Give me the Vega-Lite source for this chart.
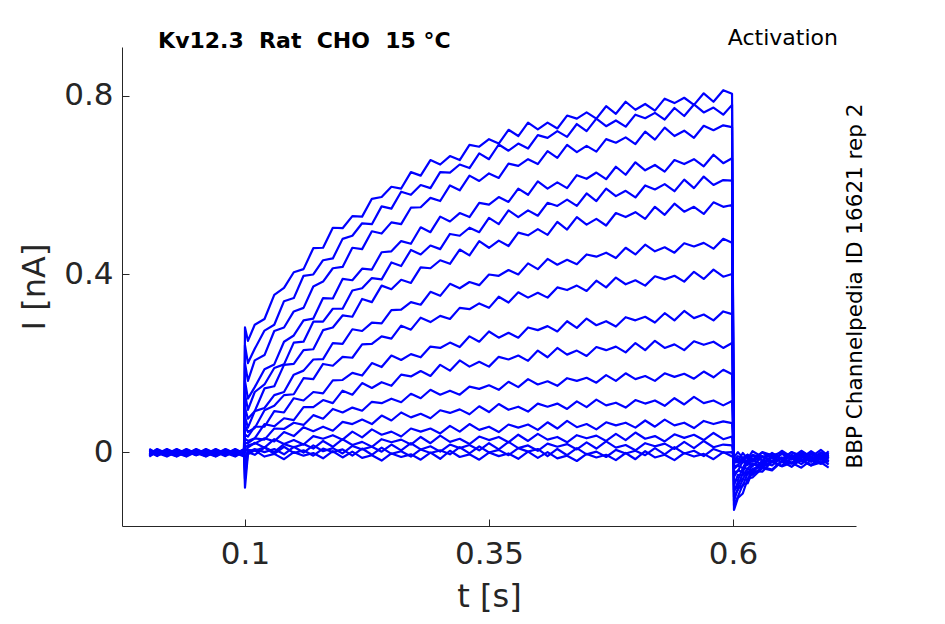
{
  "$schema": "https://vega.github.io/schema/vega-lite/v6.json",
  "width": 734,
  "height": 479,
  "autosize": "none",
  "padding": {"left": 122, "top": 47, "right": 89, "bottom": 98},
  "background": "white",
  "config": {"view": {"stroke": null}, "font": "DejaVu Sans"},
  "layer": [
    {
      "data": {"values": [
        {"t":0.002,"a":-0.003,"b":0.004,"c":-0.006,"d":0.007,"e":-0.007,"f":0.003,"g":-0.004,"h":0.001,"i":-0.001,"j":0.006,"k":-0.006,"l":0.001,"m":-0.009,"n":0.004,"o":-0.010,"p":0.000,"q":-0.007},
        {"t":0.01,"a":0.001,"b":-0.001,"c":0.006,"d":-0.003,"e":0.004,"f":-0.006,"g":0.007,"h":-0.007,"i":0.003,"j":-0.004,"k":-0.002,"l":-0.004,"m":0.003,"n":-0.006,"o":0.001,"p":-0.009,"q":0.004},
        {"t":0.02,"a":-0.007,"b":0.003,"c":-0.004,"d":0.001,"e":-0.001,"f":0.006,"g":-0.003,"h":0.004,"i":-0.006,"j":0.007,"k":-0.010,"l":0.000,"m":-0.007,"n":-0.002,"o":-0.004,"p":0.003,"q":-0.006},
        {"t":0.03,"a":0.004,"b":-0.006,"c":0.007,"d":-0.007,"e":0.003,"f":-0.004,"g":0.001,"h":-0.001,"i":0.006,"j":-0.003,"k":0.001,"l":-0.009,"m":0.004,"n":-0.010,"o":0.000,"p":-0.007,"q":-0.002},
        {"t":0.04,"a":-0.001,"b":0.006,"c":-0.003,"d":0.004,"e":-0.006,"f":0.007,"g":-0.007,"h":0.003,"i":-0.004,"j":0.001,"k":-0.004,"l":0.003,"m":-0.006,"n":0.001,"o":-0.009,"p":0.004,"q":-0.010},
        {"t":0.05,"a":0.003,"b":-0.004,"c":0.001,"d":-0.001,"e":0.006,"f":-0.003,"g":0.004,"h":-0.006,"i":0.007,"j":-0.007,"k":0.000,"l":-0.007,"m":-0.002,"n":-0.004,"o":0.003,"p":-0.006,"q":0.001},
        {"t":0.06,"a":-0.006,"b":0.007,"c":-0.007,"d":0.003,"e":-0.004,"f":0.001,"g":-0.001,"h":0.006,"i":-0.003,"j":0.004,"k":-0.009,"l":0.004,"m":-0.010,"n":0.000,"o":-0.007,"p":-0.002,"q":-0.004},
        {"t":0.07,"a":0.006,"b":-0.003,"c":0.004,"d":-0.006,"e":0.007,"f":-0.007,"g":0.003,"h":-0.004,"i":0.001,"j":-0.001,"k":0.003,"l":-0.006,"m":0.001,"n":-0.009,"o":0.004,"p":-0.010,"q":0.000},
        {"t":0.08,"a":-0.004,"b":0.001,"c":-0.001,"d":0.006,"e":-0.003,"f":0.004,"g":-0.006,"h":0.007,"i":-0.007,"j":0.003,"k":-0.007,"l":-0.002,"m":-0.004,"n":0.003,"o":-0.006,"p":0.001,"q":-0.009},
        {"t":0.09,"a":0.007,"b":-0.007,"c":0.003,"d":-0.004,"e":0.001,"f":-0.001,"g":0.006,"h":-0.003,"i":0.004,"j":-0.006,"k":0.004,"l":-0.010,"m":0.000,"n":-0.007,"o":-0.002,"p":-0.004,"q":0.003},
        {"t":0.099,"a":-0.003,"b":0.004,"c":-0.006,"d":0.007,"e":-0.007,"f":0.003,"g":-0.004,"h":0.001,"i":-0.001,"j":0.006,"k":-0.006,"l":0.001,"m":-0.009,"n":0.004,"o":-0.010,"p":0.000,"q":-0.007},
        {"t":0.1,"a":0.28,"b":0.24,"c":0.20,"d":0.16,"e":0.13,"f":0.10,"g":0.08,"h":0.06,"i":0.04,"j":0.03,"k":0.02,"l":0.01,"m":0.0,"n":-0.02,"o":-0.04,"p":-0.06,"q":-0.08},
        {"t":0.103,"a":0.25,"b":0.20,"c":0.16,"d":0.12,"e":0.095,"f":0.075,"g":0.055,"h":0.045,"i":0.035,"j":0.025,"k":0.02,"l":0.015,"m":0.01,"n":0.005,"o":0.0,"p":0.0,"q":-0.005},
        {"t":0.11,"a":0.286,"b":0.232,"c":0.206,"d":0.146,"e":0.135,"f":0.092,"g":0.092,"h":0.054,"i":0.057,"j":0.031,"k":0.031,"l":0.019,"m":0.021,"n":0.003,"o":0.007,"p":-0.006,"q":0.004},
        {"t":0.12,"a":0.299,"b":0.273,"c":0.218,"d":0.186,"e":0.152,"f":0.143,"g":0.099,"h":0.094,"i":0.057,"j":0.063,"k":0.028,"l":0.031,"m":0.010,"n":0.011,"o":0.000,"p":0.010,"q":-0.010},
        {"t":0.13,"a":0.353,"b":0.286,"c":0.272,"d":0.197,"e":0.189,"f":0.148,"g":0.128,"h":0.104,"i":0.092,"j":0.058,"k":0.053,"l":0.024,"m":0.029,"n":0.000,"o":0.007,"p":-0.004,"q":-0.004},
        {"t":0.14,"a":0.369,"b":0.339,"c":0.280,"d":0.248,"e":0.197,"f":0.196,"g":0.135,"h":0.128,"i":0.089,"j":0.076,"k":0.052,"l":0.045,"m":0.018,"n":0.018,"o":-0.005,"p":0.012,"q":-0.016},
        {"t":0.15,"a":0.404,"b":0.346,"c":0.316,"d":0.262,"e":0.246,"f":0.198,"g":0.174,"h":0.130,"i":0.121,"j":0.072,"k":0.066,"l":0.036,"m":0.027,"n":0.011,"o":0.012,"p":-0.002,"q":0.000},
        {"t":0.16,"a":0.411,"b":0.396,"c":0.324,"d":0.296,"e":0.248,"f":0.229,"g":0.183,"h":0.166,"i":0.116,"j":0.101,"k":0.061,"l":0.056,"m":0.017,"n":0.018,"o":-0.001,"p":0.004,"q":-0.008},
        {"t":0.17,"a":0.458,"b":0.399,"c":0.372,"d":0.300,"e":0.293,"f":0.231,"g":0.208,"h":0.164,"i":0.135,"j":0.101,"k":0.083,"l":0.047,"m":0.036,"n":0.008,"o":0.015,"p":-0.008,"q":-0.002},
        {"t":0.18,"a":0.459,"b":0.431,"c":0.383,"d":0.346,"e":0.293,"f":0.274,"g":0.209,"h":0.198,"i":0.132,"j":0.117,"k":0.075,"l":0.057,"m":0.030,"n":0.025,"o":0.002,"p":0.008,"q":-0.014},
        {"t":0.19,"a":0.504,"b":0.435,"c":0.413,"d":0.345,"e":0.322,"f":0.280,"g":0.245,"h":0.194,"i":0.161,"j":0.110,"k":0.097,"l":0.048,"m":0.038,"n":0.012,"o":0.009,"p":0.000,"q":0.002},
        {"t":0.20,"a":0.503,"b":0.479,"c":0.416,"d":0.389,"e":0.322,"f":0.307,"g":0.243,"h":0.214,"i":0.162,"j":0.138,"k":0.089,"l":0.068,"m":0.028,"n":0.029,"o":-0.003,"p":0.006,"q":-0.012},
        {"t":0.21,"a":0.530,"b":0.486,"c":0.459,"d":0.386,"e":0.363,"f":0.304,"g":0.276,"h":0.212,"i":0.178,"j":0.129,"k":0.100,"l":0.063,"m":0.046,"n":0.016,"o":0.014,"p":-0.008,"q":0.001},
        {"t":0.22,"a":0.529,"b":0.514,"c":0.456,"d":0.412,"e":0.368,"f":0.344,"g":0.272,"h":0.242,"i":0.172,"j":0.155,"k":0.093,"l":0.073,"m":0.033,"n":0.023,"o":0.006,"p":0.008,"q":-0.013},
        {"t":0.23,"a":0.569,"b":0.512,"c":0.496,"d":0.410,"e":0.391,"f":0.337,"g":0.291,"h":0.243,"i":0.200,"j":0.144,"k":0.113,"l":0.063,"m":0.051,"n":0.012,"o":0.012,"p":-0.006,"q":-0.007},
        {"t":0.24,"a":0.573,"b":0.552,"c":0.491,"d":0.449,"e":0.388,"f":0.374,"g":0.289,"h":0.260,"i":0.191,"j":0.157,"k":0.110,"l":0.082,"m":0.039,"n":0.029,"o":0.001,"p":0.010,"q":-0.019},
        {"t":0.25,"a":0.596,"b":0.547,"c":0.516,"d":0.451,"e":0.426,"f":0.366,"g":0.319,"h":0.255,"i":0.217,"j":0.149,"k":0.120,"l":0.071,"m":0.046,"n":0.022,"o":0.017,"p":-0.004,"q":-0.003},
        {"t":0.26,"a":0.592,"b":0.585,"c":0.512,"d":0.474,"e":0.418,"f":0.387,"g":0.320,"h":0.284,"i":0.207,"j":0.174,"k":0.112,"l":0.089,"m":0.035,"n":0.028,"o":0.004,"p":0.002,"q":-0.011},
        {"t":0.27,"a":0.629,"b":0.578,"c":0.549,"d":0.468,"e":0.454,"f":0.380,"g":0.337,"h":0.275,"i":0.220,"j":0.170,"k":0.131,"l":0.078,"m":0.053,"n":0.017,"o":0.020,"p":-0.010,"q":-0.005},
        {"t":0.28,"a":0.621,"b":0.600,"c":0.550,"d":0.505,"e":0.444,"f":0.415,"g":0.331,"h":0.302,"i":0.213,"j":0.182,"k":0.121,"l":0.086,"m":0.046,"n":0.034,"o":0.006,"p":0.006,"q":-0.017},
        {"t":0.29,"a":0.656,"b":0.593,"c":0.571,"d":0.494,"e":0.464,"f":0.413,"g":0.360,"h":0.292,"i":0.237,"j":0.171,"k":0.140,"l":0.076,"m":0.053,"n":0.020,"o":0.013,"p":-0.002,"q":-0.001},
        {"t":0.30,"a":0.646,"b":0.629,"c":0.564,"d":0.529,"e":0.456,"f":0.431,"g":0.351,"h":0.306,"i":0.234,"j":0.196,"k":0.129,"l":0.094,"m":0.042,"n":0.037,"o":0.001,"p":0.004,"q":-0.015},
        {"t":0.31,"a":0.665,"b":0.628,"c":0.599,"d":0.518,"e":0.490,"f":0.423,"g":0.378,"h":0.299,"i":0.246,"j":0.183,"k":0.138,"l":0.088,"m":0.059,"n":0.023,"o":0.017,"p":-0.005,"q":0.003},
        {"t":0.32,"a":0.656,"b":0.646,"c":0.588,"d":0.537,"e":0.486,"f":0.455,"g":0.368,"h":0.324,"i":0.236,"j":0.206,"k":0.129,"l":0.096,"m":0.046,"n":0.030,"o":0.009,"p":0.011,"q":-0.011},
        {"t":0.33,"a":0.690,"b":0.638,"c":0.621,"d":0.528,"e":0.504,"f":0.442,"g":0.382,"h":0.321,"i":0.260,"j":0.192,"k":0.147,"l":0.085,"m":0.063,"n":0.018,"o":0.016,"p":-0.003,"q":-0.005},
        {"t":0.34,"a":0.686,"b":0.671,"c":0.609,"d":0.560,"e":0.494,"f":0.474,"g":0.375,"h":0.334,"i":0.248,"j":0.203,"k":0.142,"l":0.103,"m":0.050,"n":0.035,"o":0.004,"p":0.013,"q":-0.017},
        {"t":0.35,"a":0.703,"b":0.658,"c":0.626,"d":0.556,"e":0.526,"f":0.459,"g":0.399,"h":0.324,"i":0.271,"j":0.192,"k":0.150,"l":0.090,"m":0.057,"n":0.027,"o":0.020,"p":-0.001,"q":-0.001},
        {"t":0.36,"a":0.693,"b":0.691,"c":0.616,"d":0.573,"e":0.512,"f":0.475,"g":0.396,"h":0.349,"i":0.257,"j":0.214,"k":0.140,"l":0.108,"m":0.045,"n":0.034,"o":0.006,"p":0.005,"q":-0.009},
        {"t":0.37,"a":0.724,"b":0.677,"c":0.648,"d":0.562,"e":0.543,"f":0.463,"g":0.409,"h":0.336,"i":0.268,"j":0.208,"k":0.158,"l":0.095,"m":0.062,"n":0.022,"o":0.023,"p":-0.007,"q":-0.003},
        {"t":0.38,"a":0.710,"b":0.693,"c":0.643,"d":0.592,"e":0.528,"f":0.493,"g":0.399,"h":0.359,"i":0.257,"j":0.217,"k":0.146,"l":0.102,"m":0.055,"n":0.039,"o":0.009,"p":0.009,"q":-0.015},
        {"t":0.39,"a":0.740,"b":0.682,"c":0.658,"d":0.578,"e":0.543,"f":0.487,"g":0.424,"h":0.347,"i":0.280,"j":0.205,"k":0.164,"l":0.091,"m":0.062,"n":0.025,"o":0.015,"p":0.001,"q":0.001},
        {"t":0.40,"a":0.725,"b":0.712,"c":0.647,"d":0.608,"e":0.531,"f":0.501,"g":0.411,"h":0.358,"i":0.274,"j":0.228,"k":0.152,"l":0.109,"m":0.050,"n":0.041,"o":0.003,"p":0.007,"q":-0.013},
        {"t":0.41,"a":0.740,"b":0.706,"c":0.676,"d":0.592,"e":0.560,"f":0.488,"g":0.434,"h":0.347,"i":0.283,"j":0.213,"k":0.159,"l":0.102,"m":0.067,"n":0.028,"o":0.019,"p":-0.009,"q":0.000},
        {"t":0.42,"a":0.727,"b":0.721,"c":0.661,"d":0.606,"e":0.553,"f":0.517,"g":0.421,"h":0.370,"i":0.271,"j":0.234,"k":0.149,"l":0.109,"m":0.053,"n":0.034,"o":0.012,"p":0.007,"q":-0.014},
        {"t":0.43,"a":0.756,"b":0.708,"c":0.690,"d":0.593,"e":0.567,"f":0.500,"g":0.432,"h":0.364,"i":0.294,"j":0.219,"k":0.166,"l":0.097,"m":0.070,"n":0.022,"o":0.018,"p":-0.007,"q":-0.008},
        {"t":0.44,"a":0.749,"b":0.737,"c":0.674,"d":0.622,"e":0.553,"f":0.528,"g":0.422,"h":0.374,"i":0.279,"j":0.228,"k":0.160,"l":0.114,"m":0.056,"n":0.038,"o":0.006,"p":0.009,"q":-0.020},
        {"t":0.45,"a":0.763,"b":0.721,"c":0.688,"d":0.614,"e":0.581,"f":0.511,"g":0.444,"h":0.362,"i":0.300,"j":0.216,"k":0.167,"l":0.101,"m":0.063,"n":0.031,"o":0.022,"p":-0.005,"q":-0.004},
        {"t":0.46,"a":0.749,"b":0.749,"c":0.675,"d":0.628,"e":0.564,"f":0.524,"g":0.439,"h":0.385,"i":0.285,"j":0.236,"k":0.156,"l":0.118,"m":0.051,"n":0.037,"o":0.008,"p":0.001,"q":-0.012},
        {"t":0.47,"a":0.777,"b":0.732,"c":0.703,"d":0.613,"e":0.592,"f":0.509,"g":0.448,"h":0.370,"i":0.294,"j":0.229,"k":0.173,"l":0.105,"m":0.067,"n":0.025,"o":0.024,"p":-0.011,"q":-0.006},
        {"t":0.48,"a":0.760,"b":0.745,"c":0.695,"d":0.641,"e":0.575,"f":0.537,"g":0.436,"h":0.392,"i":0.282,"j":0.237,"k":0.160,"l":0.111,"m":0.060,"n":0.041,"o":0.010,"p":0.005,"q":-0.018},
        {"t":0.49,"a":0.787,"b":0.731,"c":0.707,"d":0.623,"e":0.587,"f":0.528,"g":0.459,"h":0.377,"i":0.303,"j":0.224,"k":0.177,"l":0.100,"m":0.066,"n":0.027,"o":0.016,"p":-0.003,"q":-0.002},
        {"t":0.50,"a":0.769,"b":0.758,"c":0.692,"d":0.651,"e":0.572,"f":0.539,"g":0.444,"h":0.386,"i":0.296,"j":0.245,"k":0.164,"l":0.117,"m":0.055,"n":0.044,"o":0.004,"p":0.003,"q":-0.016},
        {"t":0.51,"a":0.782,"b":0.750,"c":0.720,"d":0.633,"e":0.599,"f":0.524,"g":0.466,"h":0.374,"i":0.304,"j":0.229,"k":0.171,"l":0.109,"m":0.071,"n":0.030,"o":0.020,"p":-0.007,"q":0.002},
        {"t":0.52,"a":0.767,"b":0.762,"c":0.702,"d":0.645,"e":0.590,"f":0.551,"g":0.451,"h":0.395,"i":0.291,"j":0.250,"k":0.160,"l":0.116,"m":0.057,"n":0.036,"o":0.013,"p":0.009,"q":-0.012},
        {"t":0.53,"a":0.794,"b":0.747,"c":0.729,"d":0.630,"e":0.602,"f":0.533,"g":0.460,"h":0.388,"i":0.312,"j":0.234,"k":0.177,"l":0.104,"m":0.073,"n":0.024,"o":0.019,"p":-0.005,"q":-0.006},
        {"t":0.54,"a":0.784,"b":0.773,"c":0.710,"d":0.656,"e":0.586,"f":0.558,"g":0.448,"h":0.396,"i":0.296,"j":0.242,"k":0.169,"l":0.121,"m":0.060,"n":0.040,"o":0.007,"p":0.011,"q":-0.018},
        {"t":0.55,"a":0.796,"b":0.755,"c":0.722,"d":0.647,"e":0.612,"f":0.540,"g":0.469,"h":0.383,"i":0.317,"j":0.229,"k":0.176,"l":0.107,"m":0.066,"n":0.032,"o":0.023,"p":-0.003,"q":-0.002},
        {"t":0.56,"a":0.780,"b":0.781,"c":0.706,"d":0.658,"e":0.593,"f":0.551,"g":0.462,"h":0.405,"i":0.301,"j":0.249,"k":0.165,"l":0.124,"m":0.054,"n":0.039,"o":0.009,"p":0.003,"q":-0.010},
        {"t":0.57,"a":0.806,"b":0.763,"c":0.733,"d":0.642,"e":0.619,"f":0.535,"g":0.470,"h":0.389,"i":0.309,"j":0.241,"k":0.181,"l":0.110,"m":0.070,"n":0.027,"o":0.025,"p":-0.009,"q":-0.004},
        {"t":0.58,"a":0.787,"b":0.774,"c":0.723,"d":0.668,"e":0.600,"f":0.561,"g":0.457,"h":0.410,"i":0.296,"j":0.248,"k":0.168,"l":0.116,"m":0.063,"n":0.043,"o":0.011,"p":0.007,"q":-0.016},
        {"t":0.59,"a":0.813,"b":0.758,"c":0.734,"d":0.649,"e":0.611,"f":0.551,"g":0.479,"h":0.394,"i":0.316,"j":0.234,"k":0.185,"l":0.105,"m":0.069,"n":0.029,"o":0.017,"p":-0.001,"q":0.000},
        {"t":0.599,"a":0.805,"b":0.780,"c":0.730,"d":0.660,"e":0.610,"f":0.555,"g":0.470,"h":0.400,"i":0.310,"j":0.245,"k":0.175,"l":0.115,"m":0.065,"n":0.035,"o":0.015,"p":0.000,"q":-0.010},
        {"t":0.601,"a":-0.13,"b":-0.12,"c":-0.11,"d":-0.10,"e":-0.09,"f":-0.085,"g":-0.075,"h":-0.065,"i":-0.055,"j":-0.045,"k":-0.038,"l":-0.032,"m":-0.026,"n":-0.022,"o":-0.018,"p":-0.014,"q":-0.012},
        {"t":0.605,"a":-0.103,"b":-0.100,"c":-0.081,"d":-0.085,"e":-0.067,"f":-0.077,"g":-0.051,"h":-0.063,"i":-0.041,"j":-0.043,"k":-0.030,"l":-0.029,"m":-0.014,"n":-0.023,"o":-0.009,"p":-0.020,"q":0.000},
        {"t":0.61,"a":-0.093,"b":-0.073,"c":-0.076,"d":-0.062,"e":-0.060,"f":-0.047,"g":-0.052,"h":-0.036,"i":-0.045,"j":-0.020,"k":-0.036,"l":-0.018,"m":-0.024,"n":-0.014,"o":-0.015,"p":-0.002,"q":-0.013},
        {"t":0.615,"a":-0.060,"b":-0.070,"c":-0.047,"d":-0.061,"e":-0.043,"f":-0.050,"g":-0.037,"h":-0.037,"i":-0.022,"j":-0.029,"k":-0.016,"l":-0.027,"m":-0.006,"n":-0.024,"o":-0.007,"p":-0.015,"q":-0.006},
        {"t":0.62,"a":-0.057,"b":-0.043,"c":-0.051,"d":-0.037,"e":-0.047,"f":-0.027,"g":-0.043,"h":-0.025,"i":-0.032,"j":-0.019,"k":-0.021,"l":-0.008,"m":-0.018,"n":-0.006,"o":-0.018,"p":0.002,"q":-0.017},
        {"t":0.63,"a":-0.036,"b":-0.044,"c":-0.033,"d":-0.034,"e":-0.021,"f":-0.032,"g":-0.019,"h":-0.030,"i":-0.010,"j":-0.027,"k":-0.011,"l":-0.019,"m":-0.009,"n":-0.012,"o":-0.001,"p":-0.011,"q":0.000},
        {"t":0.64,"a":-0.041,"b":-0.021,"c":-0.039,"d":-0.022,"e":-0.030,"f":-0.021,"g":-0.022,"h":-0.011,"i":-0.021,"j":-0.008,"k":-0.021,"l":-0.002,"m":-0.020,"n":-0.005,"o":-0.014,"p":-0.004,"q":-0.007},
        {"t":0.65,"a":-0.021,"b":-0.032,"c":-0.019,"d":-0.031,"e":-0.012,"f":-0.031,"g":-0.014,"h":-0.023,"i":-0.014,"j":-0.015,"k":-0.004,"l":-0.015,"m":-0.003,"n":-0.016,"o":0.003,"p":-0.016,"q":-0.001},
        {"t":0.66,"a":-0.033,"b":-0.024,"c":-0.026,"d":-0.014,"e":-0.024,"f":-0.013,"g":-0.025,"h":-0.006,"i":-0.025,"j":-0.008,"k":-0.017,"l":-0.008,"m":-0.011,"n":0.000,"o":-0.011,"p":0.000,"q":-0.013},
        {"t":0.67,"a":-0.016,"b":-0.035,"c":-0.019,"d":-0.027,"e":-0.018,"f":-0.021,"g":-0.009,"h":-0.019,"i":-0.008,"j":-0.020,"k":-0.001,"l":-0.020,"m":-0.005,"n":-0.014,"o":-0.005,"p":-0.008,"q":0.003},
        {"t":0.68,"a":-0.030,"b":-0.018,"c":-0.030,"d":-0.010,"e":-0.029,"f":-0.014,"g":-0.022,"h":-0.013,"i":-0.016,"j":-0.004,"k":-0.015,"l":-0.004,"m":-0.017,"n":0.002,"o":-0.017,"p":-0.002,"q":-0.011},
        {"t":0.69,"a":-0.023,"b":-0.026,"c":-0.014,"d":-0.024,"e":-0.013,"f":-0.026,"g":-0.006,"h":-0.025,"i":-0.010,"j":-0.018,"k":-0.009,"l":-0.012,"m":-0.001,"n":-0.012,"o":-0.001,"p":-0.014,"q":0.005},
        {"t":0.698,"a":-0.035,"b":-0.020,"c":-0.028,"d":-0.018,"e":-0.021,"f":-0.010,"g":-0.020,"h":-0.009,"i":-0.022,"j":-0.002,"k":-0.021,"l":-0.006,"m":-0.015,"n":-0.006,"o":-0.009,"p":0.002,"q":-0.009}
      ]},
      "transform": [
        {"fold": ["a","b","c","d","e","f","g","h","i","j","k","l","m","n","o","p","q"], "as": ["trace", "I"]}
      ],
      "mark": {"type": "line", "color": "#0000ff", "strokeWidth": 2.2, "strokeJoin": "round"},
      "encoding": {
        "x": {
          "field": "t",
          "type": "quantitative",
          "scale": {"domain": [-0.026, 0.726], "nice": false, "zero": false},
          "axis": {
            "values": [0.1, 0.35, 0.6],
            "format": "~g",
            "title": "t [s]",
            "grid": false,
            "tickSize": -7,
            "labelPadding": 20,
            "titlePadding": 12,
            "labelFontSize": 31,
            "titleFontSize": 32,
            "titleFontWeight": "normal",
            "labelColor": "#262626",
            "titleColor": "#262626",
            "domainColor": "#262626",
            "tickColor": "#262626",
            "labelFont": "DejaVu Sans",
            "titleFont": "DejaVu Sans"
          }
        },
        "y": {
          "field": "I",
          "type": "quantitative",
          "scale": {"domain": [-0.166, 0.91], "nice": false, "zero": false},
          "axis": {
            "values": [0, 0.4, 0.8],
            "format": "~g",
            "title": "I [nA]",
            "grid": false,
            "tickSize": -7,
            "labelPadding": 16,
            "titlePadding": 12,
            "labelFontSize": 31,
            "titleFontSize": 32,
            "titleFontWeight": "normal",
            "labelColor": "#262626",
            "titleColor": "#262626",
            "domainColor": "#262626",
            "tickColor": "#262626",
            "labelFont": "DejaVu Sans",
            "titleFont": "DejaVu Sans"
          }
        },
        "detail": {"field": "trace", "type": "nominal"}
      }
    },
    {
      "data": {"values": [{}]},
      "mark": {"type": "text", "align": "left", "baseline": "alphabetic", "fontSize": 22, "fontWeight": "bold", "font": "DejaVu Sans", "color": "#000000"},
      "encoding": {
        "x": {"datum": 0.011, "type": "quantitative"},
        "y": {"datum": 0.908, "type": "quantitative"},
        "text": {"value": "Kv12.3\u00a0 Rat\u00a0 CHO\u00a0 15 °C"}
      }
    },
    {
      "data": {"values": [{}]},
      "mark": {"type": "text", "align": "right", "baseline": "alphabetic", "fontSize": 22, "font": "DejaVu Sans", "color": "#000000"},
      "encoding": {
        "x": {"datum": 0.7075, "type": "quantitative"},
        "y": {"datum": 0.915, "type": "quantitative"},
        "text": {"value": "Activation"}
      }
    },
    {
      "data": {"values": [{}]},
      "mark": {"type": "text", "align": "center", "baseline": "alphabetic", "angle": 270, "fontSize": 21.5, "font": "DejaVu Sans", "color": "#000000"},
      "encoding": {
        "x": {"datum": 0.7325, "type": "quantitative"},
        "y": {"datum": 0.373, "type": "quantitative"},
        "text": {"value": "BBP Channelpedia ID 16621 rep 2"}
      }
    }
  ]
}
